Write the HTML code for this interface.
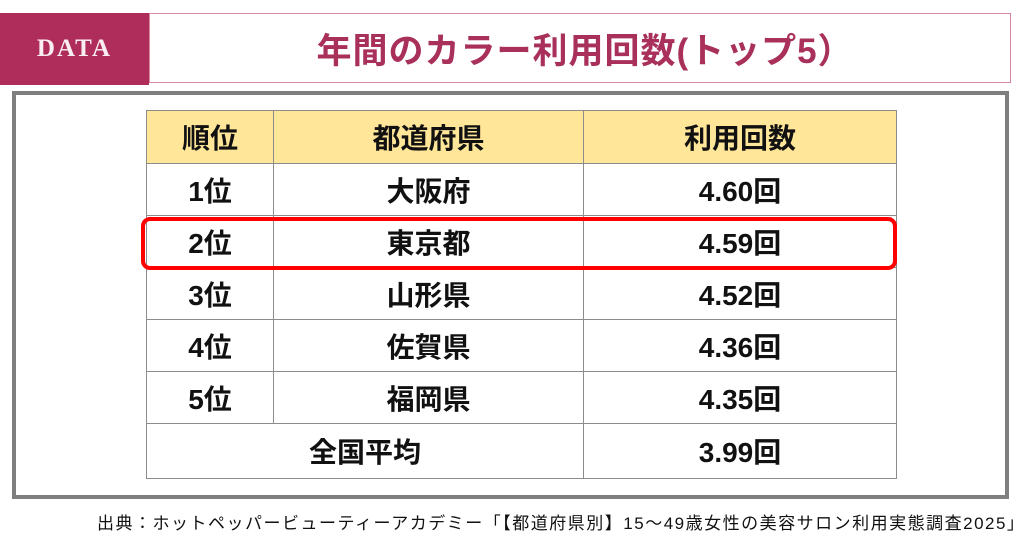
<!DOCTYPE html>
<html><head><meta charset="utf-8"><style>
body{margin:0;width:1024px;height:538px;background:#fff;position:relative;overflow:hidden;font-family:"Liberation Sans","Noto Sans CJK JP",sans-serif}
.data{position:absolute;left:0;top:13px;width:149px;height:72px;background:#ae2d5a;color:#fbeef2;font-family:"Liberation Serif",serif;font-weight:bold;font-size:25px;letter-spacing:2px;display:flex;align-items:center;justify-content:center}
.title{position:absolute;left:149px;top:13px;width:862px;height:70px;border:1px solid #d9879f;box-sizing:border-box;color:#a8305a;font-weight:bold;font-size:35px;letter-spacing:1px;display:flex;align-items:center;justify-content:center;padding-left:10px}
.frame{position:absolute;left:12px;top:91px;width:997px;height:408px;border:4px solid #7f7f7f;box-sizing:border-box}
table{position:absolute;left:146px;top:110px;border-collapse:collapse;width:751px}
td{border:1.5px solid #8c8c8c;text-align:center;font-weight:bold;font-size:28px;color:#111;height:51px;padding:0}
tr.h td{background:#ffe699;height:52px}
.hl{position:absolute;left:141px;top:217px;width:756px;height:53px;border:4px solid #f00;border-radius:9px;box-sizing:border-box}
.src{position:absolute;left:97px;top:509px;font-size:17px;letter-spacing:1.5px;color:#111;white-space:nowrap}
</style></head><body>
<div class="data">DATA</div>
<div class="title">年間のカラー利用回数(トップ5）</div>
<div class="frame"></div>
<table>
<tr class="h"><td style="width:126px">順位</td><td style="width:309px">都道府県</td><td>利用回数</td></tr>
<tr><td>1位</td><td>大阪府</td><td>4.60回</td></tr>
<tr><td>2位</td><td>東京都</td><td>4.59回</td></tr>
<tr><td>3位</td><td>山形県</td><td>4.52回</td></tr>
<tr><td>4位</td><td>佐賀県</td><td>4.36回</td></tr>
<tr><td>5位</td><td>福岡県</td><td>4.35回</td></tr>
<tr><td colspan="2" style="height:54px">全国平均</td><td>3.99回</td></tr>
</table>
<div class="hl"></div>
<div class="src">出典：ホットペッパービューティーアカデミー「【都道府県別】15～49歳女性の美容サロン利用実態調査2025」</div>
</body></html>
